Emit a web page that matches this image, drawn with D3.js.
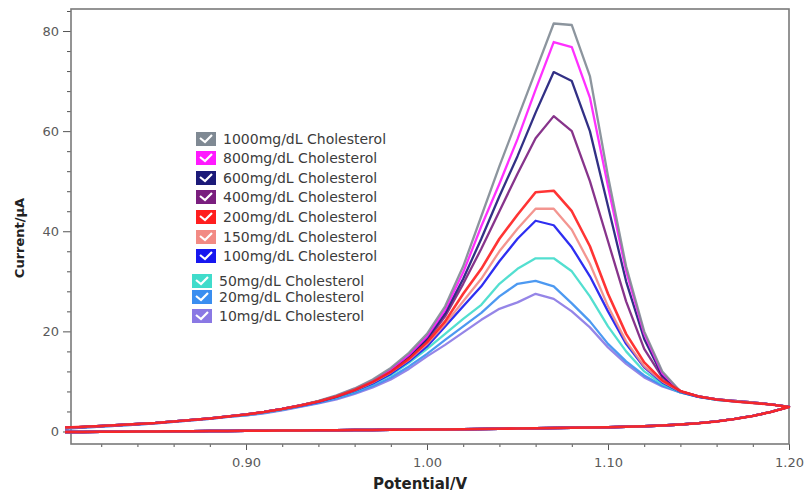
<!DOCTYPE html>
<html>
<head>
<meta charset="utf-8">
<script src="https://cdn.jsdelivr.net/npm/d3@7"></script>
<style>
body { margin: 0; background: #fff; }
svg { display: block; }
text { font-family: "DejaVu Sans", sans-serif; }
</style>
</head>
<body>
<svg width="806" height="495"></svg>
<script>
// potentials of the forward scan (V)
var potentials = [0.80,0.81,0.82,0.83,0.84,0.85,0.86,0.87,0.88,0.89,
	0.90,0.91,0.92,0.93,0.94,0.95,0.96,0.97,0.98,0.99,
	1.00,1.01,1.02,1.03,1.04,1.05,1.06,1.07,1.08,1.09,
	1.10,1.11,1.12,1.13,1.14,1.15,1.16,1.17,1.18,1.19,1.20];

// return scan, shared by all curves (1.20 back to 0.80)
var reversePotentials = [1.20,1.19,1.18,1.17,1.16,1.15,1.14,1.13,1.12,1.11,
	1.10,1.09,1.08,1.07,1.06,1.05,1.04,1.03,1.02,1.01,
	1.00,0.99,0.98,0.97,0.96,0.95,0.94,0.93,0.92,0.91,
	0.90,0.89,0.88,0.87,0.86,0.85,0.84,0.83,0.82,0.81,0.80];
var reverseCurrent = [4.9,3.9,3.1,2.5,2.0,1.65,1.4,1.2,1.05,0.95,
	0.85,0.8,0.75,0.7,0.65,0.6,0.55,0.5,0.45,0.4,
	0.4,0.35,0.35,0.3,0.3,0.25,0.25,0.2,0.2,0.15,
	0.15,0.1,0.1,0.05,0.05,0,0,-0.05,-0.05,-0.1,-0.1];

var labels = ['1000mg/dL Cholesterol','800mg/dL Cholesterol','600mg/dL Cholesterol','400mg/dL Cholesterol',
	'200mg/dL Cholesterol','150mg/dL Cholesterol','100mg/dL Cholesterol',
	'50mg/dL Cholesterol','20mg/dL Cholesterol','10mg/dL Cholesterol'];
var colors = ['#7f8993','#ff19ff','#1c1a78','#7a1e7e','#ff1e1e','#f28a84','#1717f0','#40dccb','#3a8ef0','#8a78e4'];

var c1000 = [0.7,0.9,1.1,1.3,1.5,1.7,2.0,2.3,2.6,3.0,3.4,3.9,4.5,5.2,6.1,7.2,8.6,10.4,12.7,15.7,
	19.5,25.0,33.0,43.0,53.0,62.5,72.0,81.5,81.2,71.0,51.0,33.0,20.0,12.0,8.0,7.0,6.4,6.1,5.8,5.4,4.9];
var c800 = [0.7,0.9,1.1,1.3,1.5,1.7,2.0,2.3,2.6,3.0,3.4,3.9,4.5,5.2,6.0,7.1,8.5,10.2,12.4,15.3,
	19.0,24.3,31.8,41.0,49.5,58.4,68.3,77.8,76.8,66.7,49.0,32.0,19.5,11.6,8.0,7.0,6.4,6.1,5.8,5.4,4.9];
var c600 = [0.7,0.9,1.1,1.3,1.5,1.7,2.0,2.3,2.6,3.0,3.4,3.9,4.5,5.2,6.0,7.0,8.4,10.1,12.2,15.0,
	18.6,23.6,30.5,38.5,47.0,55.0,63.7,71.8,70.0,60.0,45.0,30.0,18.5,11.2,8.0,7.0,6.4,6.1,5.8,5.4,4.9];
var c400 = [0.7,0.9,1.1,1.3,1.5,1.7,2.0,2.3,2.6,3.0,3.4,3.9,4.5,5.2,6.0,7.0,8.3,10.0,12.0,14.7,
	18.2,23.0,29.5,36.5,44.0,51.5,58.6,63.0,60.0,50.0,38.0,26.0,16.5,10.8,8.0,7.0,6.4,6.1,5.8,5.4,4.9];
var c200 = [0.8,0.95,1.1,1.3,1.5,1.7,2.0,2.3,2.6,3.0,3.4,3.9,4.5,5.2,6.0,7.0,8.3,9.9,11.9,14.5,
	17.8,22.0,27.5,32.5,38.5,43.3,47.8,48.1,44.0,37.0,27.5,19.5,13.8,10.2,8.1,7.0,6.4,6.0,5.7,5.4,4.9];
var c150 = [0.7,0.9,1.1,1.3,1.5,1.7,2.0,2.3,2.6,3.0,3.4,3.9,4.5,5.2,6.0,7.0,8.2,9.8,11.8,14.3,
	17.5,21.5,26.0,30.5,36.0,40.5,44.5,44.5,40.3,33.5,25.0,18.0,13.0,10.0,8.0,7.0,6.4,6.0,5.7,5.4,4.9];
var c100 = [0.7,0.9,1.1,1.3,1.5,1.7,2.0,2.3,2.6,3.0,3.4,3.9,4.5,5.1,5.9,6.9,8.1,9.6,11.5,14.0,
	17.0,21.0,25.0,29.0,34.0,38.5,42.1,41.2,36.8,31.0,24.0,17.5,12.8,9.8,7.9,6.9,6.4,6.0,5.7,5.4,4.9];
var c50 = [0.7,0.9,1.1,1.3,1.5,1.7,2.0,2.3,2.6,3.0,3.3,3.8,4.4,5.1,5.9,6.8,8.0,9.5,11.3,13.7,
	16.5,19.5,22.5,25.3,29.5,32.5,34.6,34.6,32.0,27.0,21.0,16.0,12.0,9.5,7.8,6.9,6.3,6.0,5.7,5.4,4.9];
var c20 = [0.6,0.8,1.0,1.2,1.4,1.6,1.9,2.2,2.5,2.9,3.2,3.7,4.3,5.0,5.7,6.6,7.7,9.1,10.8,13.0,
	15.5,18.3,21.0,23.7,27.0,29.5,30.1,29.0,25.6,22.0,17.5,14.0,11.2,9.2,7.8,6.9,6.3,6.0,5.7,5.4,4.9];
var c10 = [0.6,0.8,1.0,1.2,1.4,1.6,1.9,2.2,2.5,2.9,3.2,3.6,4.2,4.9,5.6,6.4,7.5,8.8,10.4,12.5,
	15.0,17.3,19.8,22.3,24.5,25.8,27.5,26.5,24.0,20.8,16.8,13.5,10.8,9.0,7.8,6.9,6.3,6.0,5.7,5.4,4.9];

var series = [c1000,c800,c600,c400,c200,c150,c100,c50,c20,c10];

var majorX = [0.90,1.00,1.10,1.20];
var minorX = [0.82,0.84,0.86,0.88,0.92,0.94,0.96,0.98,1.02,1.04,1.06,1.08,1.12,1.14,1.16,1.18];
var majorY = [0,20,40,60,80];
var minorY = [4,8,12,16,24,28,32,36,44,48,52,56,64,68,72,76,84];

var svg = d3.select('svg');
var x = d3.scaleLinear().domain([0.8033, 1.20]).range([71, 789]);
var y = d3.scaleLinear().domain([-2.5, 84.4]).range([444, 9]);
var axisColor = '#7a7a7a';

// ticks
var gx = svg.append('g').attr('transform', 'translate(0,444)');
gx.call(d3.axisBottom(x).tickValues(majorX).tickSize(6).tickFormat(d3.format('.2f')));
gx.append('g').call(d3.axisBottom(x).tickValues(minorX).tickSize(3).tickFormat(''));
var gy = svg.append('g').attr('transform', 'translate(71,0)');
gy.call(d3.axisLeft(y).tickValues(majorY).tickSize(8).tickFormat(d3.format('d')));
gy.append('g').call(d3.axisLeft(y).tickValues(minorY).tickSize(4).tickFormat(''));
svg.selectAll('.domain').remove();
svg.selectAll('.tick line').attr('stroke', '#555').attr('stroke-width', 1);
svg.selectAll('.tick text').attr('fill', '#5a5a5a').style('font-size', '13px');
gx.selectAll('.tick text').attr('dy', '1.05em');
gy.selectAll('.tick text').attr('dx', '-1px');

// frame
svg.append('rect')
	.attr('x', 71).attr('y', 9).attr('width', 718).attr('height', 435)
	.attr('fill', 'none').attr('stroke', axisColor).attr('stroke-width', 1.6);

// curves
var line = d3.line().x(function(d) { return x(d[0]); }).y(function(d) { return y(d[1]); });
var order = [9,8,7,6,5,3,2,1,0,4];
var curveG = svg.append('g');
order.forEach(function(i) {
	var pts = potentials.map(function(p, j) { return [p, series[i][j]]; });
	reversePotentials.forEach(function(p, j) { pts.push([p, reverseCurrent[j]]); });
	curveG.append('path')
		.attr('d', line(pts))
		.attr('fill', 'none')
		.attr('stroke', colors[i])
		.attr('stroke-width', i === 4 ? 2.6 : 2.3)
		.attr('stroke-linejoin', 'round')
		.attr('opacity', 0.9);
});

// legend
var legendY = [139,158,178,197,217,237,256,281,297,316];
var legend = svg.append('g');
labels.forEach(function(lab, i) {
	var bx = i < 7 ? 196 : 192;
	var g = legend.append('g').attr('transform', 'translate(' + bx + ',' + legendY[i] + ')');
	g.append('rect').attr('x', 0).attr('y', -7).attr('width', 20).attr('height', 14).attr('fill', colors[i]);
	g.append('path').attr('d', 'M4,-1 L9,3 L16,-4')
		.attr('fill', 'none').attr('stroke', '#fff').attr('stroke-width', 2.2);
	g.append('text').attr('x', 27).attr('y', 0).attr('dy', '0.36em')
		.style('font-size', '14px').attr('fill', '#3c3c3c').text(lab);
});

// axis titles
svg.append('text')
	.attr('transform', 'translate(24,238) rotate(-90)')
	.attr('text-anchor', 'middle')
	.style('font-size', '13px').style('font-weight', 'bold').attr('fill', '#222')
	.text('Current/µA');
svg.append('text')
	.attr('x', 420).attr('y', 489)
	.attr('text-anchor', 'middle')
	.style('font-size', '15px').style('font-weight', 'bold').attr('fill', '#222')
	.text('Potential/V');
</script>
</body>
</html>
